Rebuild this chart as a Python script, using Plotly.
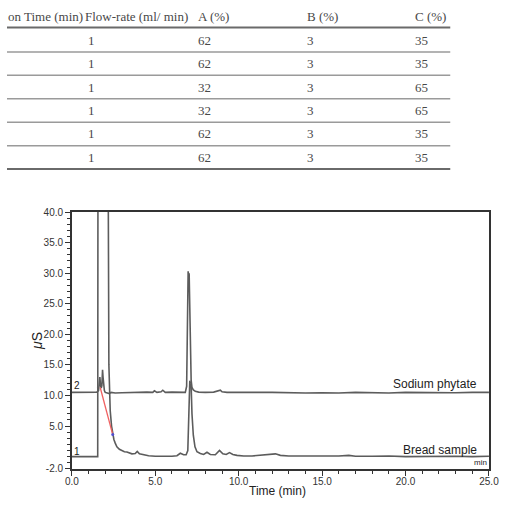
import plotly.graph_objects as go

# ---------------- table data ----------------
table_header = ["on Time (min)", "Flow-rate (ml/ min)", "A (%)", "B (%)", "C (%)"]
flow_rate = ["1", "1", "1", "1", "1", "1"]
a_pct = ["62", "62", "32", "32", "62", "62"]
b_pct = ["3", "3", "3", "3", "3", "3"]
c_pct = ["35", "35", "65", "65", "35", "35"]

# ---------------- chromatogram data ----------------
t_phytate = [0, 1.0, 1.5, 1.6, 1.65, 1.68, 1.72, 1.76, 1.8, 1.84, 1.87, 1.9, 1.95, 2.0, 2.1,
             2.25, 2.35, 2.6, 3.0, 3.5, 4.0, 4.5, 4.85, 4.95, 5.1, 5.35, 5.45, 5.6, 6.0, 6.5,
             6.8, 6.88, 6.93, 6.97, 7.0, 7.03, 7.06, 7.1, 7.15, 7.2, 7.28, 7.4, 7.6, 8.0, 8.5,
             8.9, 9.0, 9.3, 10.0, 11.0, 12.0, 13.0, 13.5, 14.0, 15.0, 16.0, 17.0, 18.0, 19.0,
             20.0, 21.0, 22.0, 23.0, 24.0, 25.0]
us_phytate = [10.5, 10.5, 10.55, 10.8, 12.0, 13.0, 11.6, 11.2, 11.6, 14.2, 13.0, 11.5, 10.8, 10.5, 10.45,
              10.3, 10.5, 10.4, 10.45, 10.5, 10.5, 10.55, 10.5, 10.75, 10.5, 10.6, 10.85, 10.5, 10.55, 10.5,
              10.5, 11.5, 20.0, 30.3, 29.6, 30.0, 24.0, 16.0, 12.5, 11.3, 10.9, 10.7, 10.55, 10.5, 10.55,
              10.85, 10.6, 10.5, 10.55, 10.5, 10.5, 10.45, 10.35, 10.4, 10.45, 10.4, 10.5, 10.45, 10.4,
              10.5, 10.45, 10.5, 10.45, 10.5, 10.5]

t_bread = [0, 1.55, 1.57, 2.16, 2.22, 2.3, 2.38, 2.45, 2.52, 2.6, 2.7, 2.85, 3.0, 3.15, 3.3,
           3.45, 3.6, 3.8, 3.92, 4.05, 4.3, 4.6, 5.0, 5.5, 6.0, 6.3, 6.5, 6.7, 6.85, 6.95,
           7.02, 7.07, 7.1, 7.15, 7.2, 7.28, 7.38, 7.5, 7.7, 7.9, 8.1, 8.3, 8.6, 8.85, 9.05,
           9.25, 9.45, 9.65, 9.9, 10.3, 10.8, 11.3, 11.8, 12.2, 12.5, 13.0, 14.0, 15.0, 16.0,
           16.6, 17.0, 18.0, 19.0, 20.0, 21.0, 22.0, 23.0, 24.0, 25.0]
us_bread = [0.0, 0.0, 60.0, 60.0, 15.0, 7.5, 5.0, 3.6, 2.8, 2.2, 1.6, 1.2, 0.95, 0.8, 0.75,
            0.55, 0.45, 0.5, 0.85, 0.45, 0.3, 0.15, 0.05, 0.0, 0.05, 0.15, 0.55, 0.3, 0.3, 1.0,
            10.0, 12.4, 12.0, 11.6, 7.0, 3.5, 1.6, 0.8, 0.5, 0.35, 0.7, 0.35, 0.3, 1.0, 0.45,
            0.35, 0.65, 0.35, 0.2, 0.1, 0.1, 0.25, 0.45, 0.45, 0.2, 0.1, 0.1, 0.05, 0.1,
            0.2, 0.05, 0.05, 0.1, 0.0, 0.05, 0.05, 0.05, 0.0, 0.05]

t_integration = [1.7, 2.45]
us_integration = [11.3, 3.6]

x_ticks = [0, 5, 10, 15, 20, 25]
x_ticktext = ["0.0", "5.0", "10.0", "15.0", "20.0", "25.0"]
y_ticks = [-2, 5, 10, 15, 20, 25, 30, 35, 40]
y_ticktext = ["-2.0", "5.0", "10.0", "15.0", "20.0", "25.0", "30.0", "35.0", "40.0"]

W, H = 528, 509


def px(x):
    return x / W


def py(y):
    return 1 - y / H


LINE = "#5c5c5c"
fig = go.Figure()
fig.add_trace(go.Scatter(x=t_phytate, y=us_phytate, mode="lines",
                         line=dict(color=LINE, width=1.6), name="Sodium phytate"))
fig.add_trace(go.Scatter(x=t_bread, y=us_bread, mode="lines",
                         line=dict(color=LINE, width=1.6), name="Bread sample"))
fig.add_trace(go.Scatter(x=t_integration, y=us_integration, mode="lines",
                         line=dict(color="#f06060", width=1.3), name="baseline"))
fig.add_trace(go.Scatter(x=t_integration[-1:], y=us_integration[-1:], mode="markers",
                         marker=dict(color="#5050d0", size=3), name="end"))

axis_font = dict(family="Arial, Liberation Sans, sans-serif", size=10, color="#333")
fig.update_layout(
    width=W, height=H,
    margin=dict(l=0, r=0, t=0, b=0),
    paper_bgcolor="white", plot_bgcolor="white",
    showlegend=False,
    xaxis=dict(domain=[px(67), px(498)], range=[0, 25], tickvals=x_ticks, ticktext=x_ticktext,
               ticks="outside", ticklen=5, tickwidth=1.2, tickcolor="#333",
               minor=dict(tick0=0, dtick=1, ticks="outside", ticklen=3, tickwidth=1.2, tickcolor="#333"),
               showline=True, linecolor="#333", linewidth=1.5, mirror=True,
               showgrid=False, zeroline=False, tickfont=axis_font, ticklabelstandoff=-3),
    yaxis=dict(domain=[py(474), py(211)], range=[-2, 40], tickvals=y_ticks, ticktext=y_ticktext,
               ticks="outside", ticklen=5, tickwidth=1.2, tickcolor="#333",
               minor=dict(tick0=0, dtick=1, ticks="outside", ticklen=3, tickwidth=1.2, tickcolor="#333"),
               showline=True, linecolor="#333", linewidth=1.5, mirror=True,
               showgrid=False, zeroline=False, tickfont=axis_font),
)

ann = []
sans = "Arial, Liberation Sans, sans-serif"


def add_text(text, x, y, size, anchor="center", family=sans, color="#222", angle=0):
    ann.append(dict(text=text, x=px(x), y=py(y), xref="paper", yref="paper", showarrow=False,
                    xanchor=anchor, yanchor="middle", textangle=angle, borderpad=0,
                    font=dict(family=family, size=size, color=color)))


add_text("Sodium phytate", 487, 387, 12, anchor="right")
add_text("Bread sample", 487, 455, 12, anchor="right")
add_text("2", 68, 389, 10, anchor="left")
add_text("1", 68, 456, 10, anchor="left")
add_text("min", 497, 468, 8, anchor="right")
add_text("<i>μ</i>S", 31, 343, 14, angle=-90)
add_text("Time (min)", 280, 497, 12)

# table
serif = "Liberation Serif, Times New Roman, serif"
tcol = "#484848"
col_x = [0, 80, 196, 309, 421]
add_text(table_header[0], col_x[0], 11, 13, anchor="left", family=serif, color=tcol)
for i in range(1, 5):
    add_text(table_header[i], col_x[i], 11, 13, anchor="left", family=serif, color=tcol)
row_y = [35, 59, 83, 107, 131, 155]
for r in range(6):
    add_text(flow_rate[r], 83, row_y[r], 13, anchor="left", family=serif, color=tcol)
    add_text(a_pct[r], col_x[2], row_y[r], 13, anchor="left", family=serif, color=tcol)
    add_text(b_pct[r], col_x[3], row_y[r], 13, anchor="left", family=serif, color=tcol)
    add_text(c_pct[r], col_x[4], row_y[r], 13, anchor="left", family=serif, color=tcol)

shapes = []
line_y = [22, 47, 71, 95, 119, 143, 167]
for k, ly in enumerate(line_y):
    edge = k in (0, len(line_y) - 1)
    shapes.append(dict(type="line", xref="paper", yref="paper", x0=0, x1=px(458),
                       y0=py(ly), y1=py(ly),
                       line=dict(color="#6a6a6a" if edge else "#9a9a9a", width=2 if edge else 1.5)))

fig.update_layout(annotations=ann, shapes=shapes)
fig.write_html("out.html")
